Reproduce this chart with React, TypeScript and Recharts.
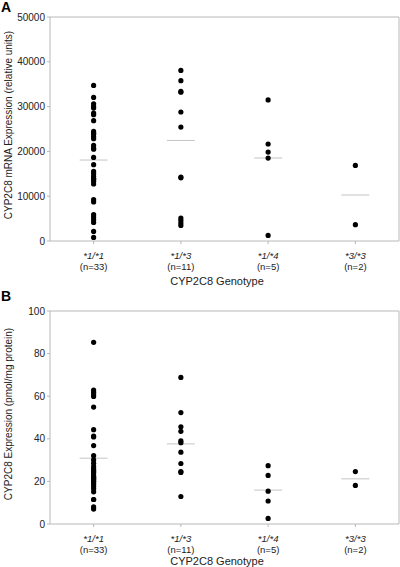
import { ScatterChart, Scatter, XAxis, YAxis, ReferenceLine } from "recharts";

const genotypes = ["*1/*1", "*1/*3", "*1/*4", "*3/*3"];
const counts = ["(n=33)", "(n=11)", "(n=5)", "(n=2)"];

// panel A: mRNA expression (relative units)
const mrna11 = [
  34730, 32050, 30640, 30040, 29680, 28570, 28190, 26850, 24460, 24000, 23950,
  23350, 22830, 21340, 20760, 20500, 18660, 17030, 15540, 15020, 14420, 13900,
  13800, 13310, 12720, 9220, 8700, 5870, 5360, 4750, 4150, 2140, 800,
];
const mrna13 = [38080, 35780, 33390, 33200, 28790, 25440, 14280, 14100, 5130, 4600, 4020, 3480];
const mrna14 = [31500, 21650, 19860, 18520, 1250];
const mrna33 = [16870, 3640];
const meansA = [18070, 22450, 18520, 10270];
const ticksA = [0, 10000, 20000, 30000, 40000, 50000];

// panel B: protein expression (pmol/mg protein)
const prot11 = [
  85.3, 62.9, 61.9, 60.8, 59.9, 54.9, 44.3, 41.3, 40.9, 36.8, 32.1, 30.1, 28.5,
  27, 25.9, 25.1, 24.5, 23.9, 22.8, 22, 21.7, 21, 20.7, 20, 19.7, 18.7, 17.6,
  16.5, 15.1, 11.5, 11.5, 8, 7,
];
const prot13 = [68.8, 52.3, 45.6, 43.5, 39.0, 38.2, 33.7, 28.4, 24.6, 24.2, 12.9];
const prot14 = [27.4, 22.8, 15.4, 10.8, 2.6];
const prot33 = [24.6, 18.1];
const meansB = [30.9, 37.6, 15.9, 21.2];
const ticksB = [0, 20, 40, 60, 80, 100];

const AXIS = "#b8b8b8";
const TXT = "#222";

const toPoints = (groups: number[][]) =>
  groups.flatMap((vals, i) => vals.map((v) => ({ x: i + 1, y: v })));

function GenoTick(props: any) {
  const { x, y, payload } = props;
  const i = payload.value - 1;
  return (
    <g>
      <text x={x} y={y + 12.5} textAnchor="middle" fontSize={9.5} fontStyle="italic" fill={TXT}>
        {genotypes[i]}
      </text>
      <text x={x} y={y + 23.5} textAnchor="middle" fontSize={9.5} fill={TXT}>
        {counts[i]}
      </text>
    </g>
  );
}

const Dot = (props: any) => <circle cx={props.cx} cy={props.cy} r={2.6} fill="#000" />;

function Panel(props: {
  data: { x: number; y: number }[];
  means: number[];
  max: number;
  ticks: number[];
  height: number;
  top: number;
  axisH: number;
}) {
  const { data, means, max, ticks, height, top, axisH } = props;
  return (
    <ScatterChart width={400} height={height} margin={{ top, right: 1, bottom: 0, left: 0 }}>
      <XAxis
        type="number"
        dataKey="x"
        domain={[0.5, 4.5]}
        ticks={[1, 2, 3, 4]}
        tick={<GenoTick />}
        tickSize={3}
        height={axisH}
        stroke={AXIS}
        interval={0}
      />
      <YAxis
        type="number"
        dataKey="y"
        domain={[0, max]}
        ticks={ticks}
        width={50}
        tickSize={3}
        tickMargin={2}
        stroke={AXIS}
        tick={{ fontSize: 10, fill: TXT }}
        interval={0}
      />
      <ReferenceLine y={max} stroke={AXIS} />
      <ReferenceLine x={4.5} stroke={AXIS} />
      {means.map((m, i) => (
        <ReferenceLine
          key={i}
          segment={[
            { x: i + 1 - 0.16, y: m },
            { x: i + 1 + 0.16, y: m },
          ]}
          stroke="#c4c4c4"
        />
      ))}
      <Scatter data={data} shape={<Dot />} isAnimationActive={false} />
    </ScatterChart>
  );
}

const abs = (s: React.CSSProperties): React.CSSProperties => ({ position: "absolute", ...s });

export default function App() {
  return (
    <div
      style={{
        position: "relative",
        width: 400,
        height: 567,
        background: "#fff",
        fontFamily: "'Liberation Sans', Arial, sans-serif",
        color: TXT,
      }}
    >
      <style>{"body{margin:0}"}</style>
      <div style={abs({ left: 0, top: 0 })}>
        <Panel
          data={toPoints([mrna11, mrna13, mrna14, mrna33])}
          means={meansA}
          max={50000}
          ticks={ticksA}
          height={283}
          top={17}
          axisH={42}
        />
      </div>
      <div style={abs({ left: 0, top: 283 })}>
        <Panel
          data={toPoints([prot11, prot13, prot14, prot33])}
          means={meansB}
          max={100}
          ticks={ticksB}
          height={284}
          top={28}
          axisH={43}
        />
      </div>
      <div style={abs({ left: 1, top: 0, fontSize: 14, lineHeight: "14px", fontWeight: "bold", color: "#000" })}>A</div>
      <div style={abs({ left: 1, top: 289, fontSize: 14, lineHeight: "14px", fontWeight: "bold", color: "#000" })}>B</div>
      <div
        style={abs({
          left: 8,
          top: 125,
          fontSize: 10,
          whiteSpace: "nowrap",
          transform: "translate(-50%, -50%) rotate(-90deg)",
        })}
      >
        CYP2C8 mRNA Expression (relative units)
      </div>
      <div
        style={abs({
          left: 8,
          top: 414,
          fontSize: 10,
          whiteSpace: "nowrap",
          transform: "translate(-50%, -50%) rotate(-90deg)",
        })}
      >
        CYP2C8 Expression (pmol/mg protein)
      </div>
      <div style={abs({ left: 217, top: 281, fontSize: 11, whiteSpace: "nowrap", transform: "translate(-50%, -50%)" })}>
        CYP2C8 Genotype
      </div>
      <div style={abs({ left: 217, top: 561, fontSize: 11, whiteSpace: "nowrap", transform: "translate(-50%, -50%)" })}>
        CYP2C8 Genotype
      </div>
    </div>
  );
}
